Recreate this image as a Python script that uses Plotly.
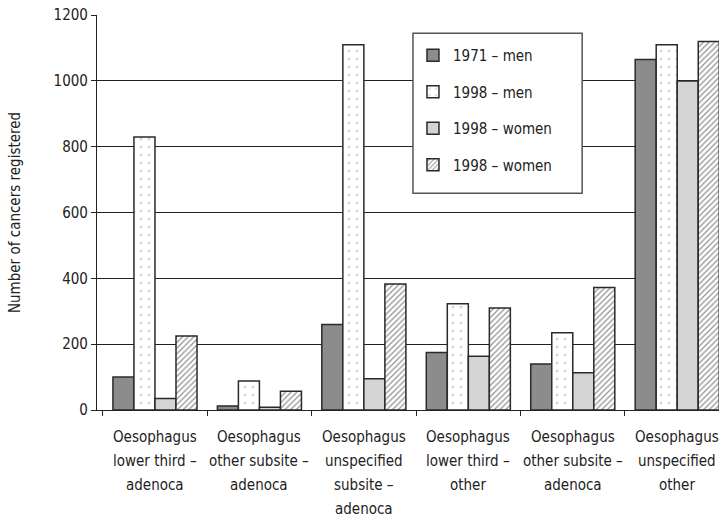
import plotly.graph_objects as go

# categories along the x axis (two labels repeat, so keys keep them apart)
category_keys = ["c1", "c2", "c3", "c4", "c5", "c6"]
category_labels = [
    "Oesophagus<br>lower third –<br>adenoca",
    "Oesophagus<br>other subsite –<br>adenoca",
    "Oesophagus<br>unspecified<br>subsite –<br>adenoca",
    "Oesophagus<br>lower third –<br>other",
    "Oesophagus<br>other subsite –<br>adenoca",
    "Oesophagus<br>unspecified<br>other",
]

# series values
men_1971 = [100, 12, 260, 175, 140, 1065]
men_1998 = [830, 88, 1110, 323, 235, 1110]
women_1998 = [35, 8, 95, 163, 113, 1000]
women_1998_hatched = [225, 57, 383, 310, 372, 1120]

y_ticks = [0, 200, 400, 600, 800, 1000, 1200]

font_family = "DejaVu Sans Condensed, Liberation Sans Narrow, sans-serif"
outline = dict(color="#2a2a2a", width=1.5)

fig = go.Figure()

fig.add_trace(go.Bar(
    x=category_keys, y=men_1971, name="1971 – men", legendgroup="a",
    marker=dict(color="#8c8c8c", line=outline),
))
fig.add_trace(go.Bar(
    x=category_keys, y=men_1998, name="1998 – men", legendgroup="b",
    marker=dict(color="white", line=outline,
                pattern=dict(shape=".", fgcolor="#b4b4b4", bgcolor="white",
                             size=8, solidity=0.12)),
))
fig.add_trace(go.Bar(
    x=category_keys, y=women_1998, name="1998 – women", legendgroup="c",
    marker=dict(color="#d4d4d4", line=outline),
))
fig.add_trace(go.Bar(
    x=category_keys, y=women_1998_hatched, name="1998 – women", legendgroup="d",
    marker=dict(color="white", line=outline,
                pattern=dict(shape="/", fgcolor="#222222", bgcolor="white",
                             size=4, solidity=0.3)),
))

# multi-line category labels with the wider line spacing of the original
for key, label in zip(category_keys, category_labels):
    for i, line in enumerate(label.split("<br>")):
        fig.add_annotation(
            x=key, y=0, xref="x", yref="y", text=line, showarrow=False,
            yanchor="middle", yshift=-27 - 24 * i,
            font=dict(size=15, color="#222222"),
        )

# legend frame, drawn as a shape so it can be larger than the entries
fig.add_shape(
    type="rect", xref="x domain", yref="y domain",
    x0=0.508, x1=0.780, y0=0.549, y1=0.954,
    fillcolor="white", line=dict(color="#555555", width=1.5), layer="above",
)

fig.update_layout(
    width=719,
    height=523,
    margin=dict(l=97, r=0, t=15, b=113, autoexpand=False),
    barmode="group",
    bargap=0.195,
    bargroupgap=0,
    plot_bgcolor="white",
    paper_bgcolor="white",
    font=dict(family=font_family, size=15, color="#222222"),
    legend=dict(
        x=0.508, y=0.939, xanchor="left", yanchor="top",
        bgcolor="rgba(0,0,0,0)", borderwidth=0,
        font=dict(size=15, color="#222222"),
        tracegroupgap=14, itemwidth=30, traceorder="grouped",
    ),
    xaxis=dict(
        range=[-0.555, 5.40], automargin=False,
        showline=True, linecolor="#222222", linewidth=1.2,
        ticks="outside", tickson="boundaries", ticklen=5,
        tickcolor="#222222", showgrid=False, showticklabels=False,
    ),
    yaxis=dict(
        range=[0, 1200.5], tickvals=y_ticks, automargin=False,
        ticklabeloverflow="allow",
        showline=True, linecolor="#222222", linewidth=1.2,
        ticks="outside", ticklen=5, tickcolor="#222222",
        showgrid=True, gridcolor="#222222", gridwidth=1,
        zeroline=False,
        title=dict(text="Number of cancers registered", font=dict(size=15), standoff=29),
        tickfont=dict(size=15),
    ),
)

# drop the page's default body margin so the figure sits at the corner
fig.write_html("out.html", config={"displayModeBar": False},
               post_script="document.body.style.margin = '0';")
